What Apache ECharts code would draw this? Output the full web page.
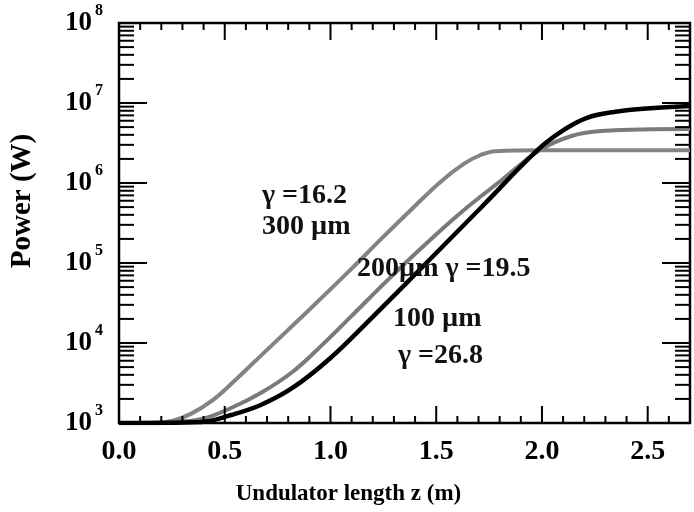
<!DOCTYPE html>
<html>
<head>
<meta charset="utf-8">
<script src="https://cdn.jsdelivr.net/npm/echarts@6/dist/echarts.min.js"></script>
<style>
  html, body { margin: 0; padding: 0; background: #fff; }
  #chart { width: 694px; height: 512px; }
</style>
</head>
<body>
<div id="chart"></div>
<script>
// Undulator length z (m) and FEL power (W) for three beam sizes
const z300 = [0, 0.15, 0.25, 0.34, 0.44, 0.53, 0.67, 0.82, 0.94, 1.10, 1.24, 1.38, 1.52, 1.63, 1.71, 1.78, 1.99, 2.70];
const p300 = [1.0e3, 1.0e3, 1.06e3, 1.3e3, 1.9e3, 3.07e3, 6.9e3, 1.64e4, 3.3e4, 8.5e4, 2.0e5, 4.6e5, 1.03e6, 1.73e6, 2.24e6, 2.5e6, 2.56e6, 2.56e6];

const z200 = [0, 0.25, 0.39, 0.53, 0.67, 0.82, 0.96, 1.10, 1.27, 1.43, 1.62, 1.81, 1.99, 2.14, 2.28, 2.70];
const p200 = [1.0e3, 1.03e3, 1.12e3, 1.54e3, 2.37e3, 4.34e3, 9.4e3, 2.18e4, 6.1e4, 1.54e5, 4.34e5, 1.09e6, 2.58e6, 3.87e6, 4.47e6, 4.73e6];

const z100 = [0, 0.39, 0.53, 0.67, 0.82, 1.00, 1.18, 1.43, 1.71, 1.99, 2.11, 2.21, 2.34, 2.53, 2.70];
const p100 = [1.0e3, 1.03e3, 1.26e3, 1.68e3, 2.74e3, 6.5e3, 1.88e4, 8.66e4, 4.87e5, 2.74e6, 4.73e6, 6.49e6, 7.72e6, 8.66e6, 9.17e6];

// Axis ranges and tick values
const xMin = 0, xMax = 2.7, xMajorStep = 0.5, xMinorStep = 0.1;
const yMin = 1e3, yMax = 1e8;
const xTickLabels = ['0.0', '0.5', '1.0', '1.5', '2.0', '2.5'];

// Curve annotations
const notes = [
  { text: '\u03b3 =16.2', x: 262, y: 197 },
  { text: '300 \u00b5m', x: 262, y: 228 },
  { text: '200\u00b5m \u03b3 =19.5', x: 357, y: 270 },
  { text: '100 \u00b5m', x: 393, y: 320 },
  { text: '\u03b3 =26.8', x: 398, y: 357 }
];

const pairs = (xs, ys) => xs.map((v, i) => [v, ys[i]]);

// tick positions: x every 0.1 (major every 0.5), y at k*10^n
const xTicks = [];
for (let i = 0; i <= Math.round((xMax - xMin) / xMinorStep); i++) {
  const v = +(xMin + i * xMinorStep).toFixed(2);
  xTicks.push([v, yMin, Math.abs(v / xMajorStep - Math.round(v / xMajorStep)) < 1e-6 ? 1 : 0]);
}
const yTicks = [];
for (let d = 3; d < 8; d++) {
  for (let k = 1; k <= 9; k++) yTicks.push([xMin, k * Math.pow(10, d), k === 1 ? 1 : 0]);
}
yTicks.push([xMin, yMax, 1]);

const SERIF = "'Liberation Serif', 'Times New Roman', serif";
const chart = echarts.init(document.getElementById('chart'), null, { renderer: 'canvas' });

const tickStyle = { stroke: '#000', lineWidth: 2 };

chart.setOption({
  animation: false,
  backgroundColor: '#fff',
  grid: { left: 117, right: 4, top: 23, bottom: 89, show: true, borderColor: '#000', borderWidth: 2.5, backgroundColor: 'transparent' },
  xAxis: {
    type: 'value', min: xMin, max: xMax, interval: xMajorStep,
    axisLine: { show: false }, axisTick: { show: false }, splitLine: { show: false },
    axisLabel: {
      margin: 15, color: '#000', fontFamily: SERIF, fontWeight: 'bold', fontSize: 28,
      formatter: v => {
        const i = Math.round(v / xMajorStep);
        return (Math.abs(v - i * xMajorStep) < 1e-6 && i < xTickLabels.length) ? xTickLabels[i] : '';
      }
    },
    name: 'Undulator length z (m)', nameLocation: 'middle', nameGap: 60,
    nameTextStyle: { color: '#000', fontFamily: SERIF, fontWeight: 'bold', fontSize: 23, padding: [0, 112, 0, 0] }
  },
  yAxis: {
    type: 'log', logBase: 10, min: yMin, max: yMax,
    axisLine: { show: false }, axisTick: { show: false }, splitLine: { show: false },
    axisLabel: {
      margin: 16,
      formatter: v => '{b|10}{s|' + Math.round(Math.log10(v)) + '}',
      rich: {
        b: { color: '#000', fontFamily: SERIF, fontWeight: 'bold', fontSize: 27, lineHeight: 40 },
        s: { color: '#000', fontFamily: SERIF, fontWeight: 'bold', fontSize: 16, lineHeight: 16, verticalAlign: 'top', padding: [0, 0, 0, 3] }
      }
    },
    name: 'Power (W)', nameLocation: 'middle', nameGap: 82, nameRotate: 90,
    nameTextStyle: { color: '#000', fontFamily: SERIF, fontWeight: 'bold', fontSize: 29, padding: [0, 0, 0, 44] }
  },
  graphic: notes.map(n => ({
    type: 'text', left: n.x, top: n.y - 15, silent: true, z: 10,
    style: { text: n.text, fill: '#111', font: "bold 28px " + SERIF }
  })),
  series: [
    {
      name: '300 \u00b5m', type: 'line', data: pairs(z300, p300), showSymbol: false,
      smooth: 0.4, lineStyle: { color: '#838383', width: 4 }, z: 3
    },
    {
      name: '200 \u00b5m', type: 'line', data: pairs(z200, p200), showSymbol: false,
      smooth: 0.4, lineStyle: { color: '#7a7a7a', width: 4 }, z: 3
    },
    {
      name: '100 \u00b5m', type: 'line', data: pairs(z100, p100), showSymbol: false,
      smooth: 0.4, lineStyle: { color: '#000', width: 4.5 }, z: 4
    },
    {
      // tick marks on bottom and top frame edges
      type: 'custom', data: xTicks, silent: true, z: 5,
      renderItem: (params, api) => {
        const x = api.value(0), major = api.value(2);
        const b = api.coord([x, yMin]), t = api.coord([x, yMax]);
        const len = major ? 17 : 7;
        return { type: 'group', children: [
          { type: 'line', shape: { x1: b[0], y1: b[1], x2: b[0], y2: b[1] - len }, style: tickStyle },
          { type: 'line', shape: { x1: t[0], y1: t[1], x2: t[0], y2: t[1] + len }, style: tickStyle }
        ] };
      }
    },
    {
      // tick marks on left and right frame edges
      type: 'custom', data: yTicks, silent: true, z: 5,
      renderItem: (params, api) => {
        const y = api.value(1), major = api.value(2);
        const l = api.coord([xMin, y]), r = api.coord([xMax, y]);
        const len = major ? 28 : 15;
        return { type: 'group', children: [
          { type: 'line', shape: { x1: l[0], y1: l[1], x2: l[0] + len, y2: l[1] }, style: tickStyle },
          { type: 'line', shape: { x1: r[0], y1: r[1], x2: r[0] - len, y2: r[1] }, style: tickStyle }
        ] };
      }
    }
  ]
});
</script>
</body>
</html>
